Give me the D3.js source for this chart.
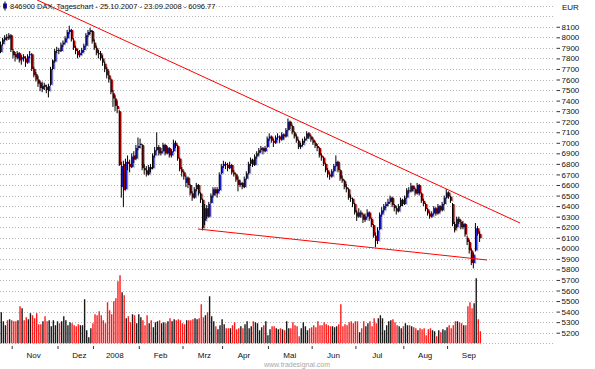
<!DOCTYPE html>
<html><head><meta charset="utf-8">
<script src="https://cdn.jsdelivr.net/npm/d3@7/dist/d3.min.js"></script>
<style>body{margin:0;background:#fff}svg{display:block}text{font-family:"Liberation Sans",Arial,sans-serif}</style>
</head><body><svg id="c" width="595" height="369"></svg>
<script>
const title = "846900  DAX, Tageschart - 25.10.2007 - 23.09.2008 - 6096.77";
const currency = "EUR";
const credit = "www.tradesignal.com";
const startDate = "2007-10-25", endDate = "2008-09-23";
const holidays = ["2007-12-24","2007-12-25","2007-12-26","2007-12-31","2008-01-01","2008-03-21","2008-03-24","2008-05-01"];
const monthLabels = ["Nov","Dez","2008","Feb","Mrz","Apr","Mai","Jun","Jul","Aug","Sep"];
const gridLevels = [5100,5200,5300,5400,5500,5600,5700,5800,5900,6000,6100,6200,6300,6400,6500,6600,6700,6800,6900,7000,7100,7200,7300,7400,7500,7600,7700,7800,7900,8000,8100,8200,8300];
const tickLabels = [5200,5300,5400,5500,5600,5700,5800,5900,6000,6100,6200,6300,6400,6500,6600,6700,6800,6900,7000,7100,7200,7300,7400,7500,7600,7700,7800,7900,8000,8100];
// [open, high, low, close]
const ohlc = [
[7860,7960,7850,7930],[7935,7995,7920,7980],[7975,8020,7960,8000],[8005,8030,7970,7990],[7990,8040,7975,8020],
[8020,8030,7860,7880],[7870,7890,7800,7830],[7840,7860,7770,7810],[7800,7870,7790,7850],[7850,7860,7760,7780],
[7790,7830,7740,7810],[7820,7840,7770,7800],[7800,7820,7720,7760],[7760,7840,7750,7820],[7830,7870,7800,7840],
[7840,7850,7680,7700],[7700,7720,7620,7640],[7650,7670,7580,7600],[7600,7630,7530,7560],[7570,7590,7490,7520],
[7510,7580,7480,7540],[7550,7570,7500,7530],[7530,7550,7470,7500],[7490,7560,7430,7540],[7550,7720,7540,7700],
[7700,7790,7690,7780],[7770,7890,7760,7870],
[7880,7910,7850,7880],[7880,7900,7840,7870],[7870,7950,7860,7930],[7930,7970,7910,7950],[7950,8010,7940,7990],
[7990,8070,7980,8050],[8050,8110,8030,8070],[8070,8080,7960,7980],[7970,7990,7880,7900],[7900,7920,7840,7870],
[7870,7890,7800,7830],[7830,7880,7810,7850],[7850,7900,7830,7880],[7880,7940,7860,7920],[7920,8040,7910,8020],
[8020,8070,8000,8050],[8050,8090,8030,8067],
[8060,8070,7940,7960],[7950,7980,7880,7900],[7900,7920,7830,7850],[7850,7880,7800,7840],[7850,7870,7780,7800],
[7800,7830,7730,7760],[7750,7770,7670,7700],[7700,7720,7610,7640],[7640,7680,7570,7600],[7600,7610,7460,7480],
[7470,7500,7340,7420],[7420,7450,7300,7350],[7350,7400,7280,7320],[7300,7310,6780,6790],[6580,6820,6480,6780],
[6800,6830,6390,6550],[6560,6850,6550,6820],[6820,6880,6740,6800],[6800,6840,6720,6770],[6770,6900,6760,6870],
[6880,6920,6810,6840],[6850,6980,6840,6950],
[6950,7050,6930,6970],[6980,7040,6950,6990],[6980,6990,6740,6760],[6760,6800,6700,6740],[6740,6780,6680,6700],
[6700,6790,6690,6770],[6770,6800,6720,6750],[6760,6900,6750,6880],[6880,6960,6860,6930],[6930,7100,6920,6960],
[6960,6980,6880,6900],[6900,6950,6880,6920],[6920,7000,6910,6980],[6980,6990,6880,6900],[6900,6970,6890,6950],
[6950,6960,6860,6880],[6880,6940,6860,6920],[6920,7030,6910,7000],[7000,7020,6950,6970],[6970,6980,6830,6850],
[6850,6860,6730,6750],
[6750,6770,6680,6720],[6720,6730,6650,6680],[6620,6690,6580,6670],[6670,6680,6570,6600],[6600,6610,6500,6520],
[6520,6540,6450,6480],[6480,6580,6470,6560],[6560,6620,6540,6600],[6600,6610,6500,6520],[6520,6530,6430,6460],
[6460,6470,6170,6190],[6260,6420,6220,6380],[6380,6410,6280,6300],[6300,6440,6290,6420],[6430,6520,6420,6500],
[6500,6580,6480,6560],[6560,6580,6500,6520],[6520,6580,6480,6560],[6550,6720,6540,6700],
[6710,6800,6700,6780],[6780,6830,6760,6800],[6800,6820,6750,6790],[6790,6810,6730,6760],[6760,6820,6750,6790],
[6790,6800,6700,6720],[6720,6740,6680,6700],[6700,6710,6630,6650],[6650,6680,6540,6600],[6600,6650,6580,6620],
[6620,6630,6560,6580],[6580,6680,6570,6660],[6660,6730,6650,6710],[6710,6820,6700,6800],[6800,6860,6780,6840],
[6840,6850,6770,6790],[6790,6890,6780,6870],[6870,6920,6850,6900],[6900,6950,6880,6930],[6930,6970,6910,6950],
[6950,6960,6890,6920],[6920,6970,6910,6950],
[6960,7060,6950,7040],[7040,7090,7020,7060],[7060,7070,7000,7020],[7020,7040,6960,7000],[7000,7070,6990,7050],
[7050,7090,7030,7060],[7060,7070,7000,7030],[7030,7100,7020,7080],[7080,7090,7030,7060],[7060,7140,7050,7120],
[7120,7230,7110,7200],[7200,7210,7130,7160],[7160,7170,7080,7100],[7100,7110,7040,7060],[7060,7080,7000,7020],
[7020,7030,6940,6960],[6960,7000,6940,6980],[6980,7040,6970,7020],[7020,7060,7000,7040],[7040,7110,7030,7090],
[7090,7100,7040,7060],
[7060,7070,7010,7030],[7030,7050,6980,7000],[7000,7020,6950,6970],[6970,6990,6920,6950],[6950,6960,6860,6880],
[6880,6900,6830,6860],[6860,6870,6780,6800],[6800,6810,6720,6740],[6740,6760,6670,6700],[6700,6720,6650,6680],
[6680,6750,6670,6730],[6730,6800,6720,6780],[6780,6880,6770,6820],[6820,6830,6720,6740],[6740,6750,6640,6660],
[6660,6690,6620,6640],[6640,6650,6560,6580],[6580,6610,6530,6560],[6560,6570,6460,6480],[6480,6510,6440,6470],
[6470,6480,6390,6420],
[6420,6430,6320,6340],[6340,6360,6260,6300],[6300,6380,6290,6340],[6340,6360,6290,6320],[6320,6330,6240,6270],
[6270,6330,6250,6300],[6300,6370,6290,6340],[6340,6350,6260,6280],[6280,6290,6200,6220],[6220,6230,6100,6120],
[6120,6150,6010,6070],[6070,6200,6040,6170],[6180,6340,6170,6320],[6320,6390,6300,6360],[6360,6420,6340,6400],
[6400,6440,6380,6420],[6420,6470,6400,6440],[6440,6500,6430,6480],[6480,6490,6390,6410],[6410,6420,6350,6380],
[6380,6400,6320,6350],[6350,6420,6340,6400],[6400,6480,6390,6460],
[6460,6470,6400,6420],[6420,6500,6410,6480],[6480,6570,6470,6550],[6550,6580,6520,6540],[6540,6620,6530,6590],
[6590,6600,6540,6560],[6560,6570,6500,6520],[6520,6620,6510,6600],[6600,6610,6500,6520],[6520,6530,6430,6450],
[6450,6470,6400,6420],[6420,6430,6350,6370],[6370,6380,6310,6330],[6330,6350,6280,6300],[6300,6350,6290,6330],
[6330,6400,6320,6380],[6380,6390,6310,6330],[6330,6420,6320,6400],[6400,6410,6340,6360],[6360,6440,6350,6420],
[6420,6500,6410,6480],
[6480,6560,6470,6530],[6530,6540,6470,6490],[6490,6500,6430,6450],[6420,6430,6210,6230],[6230,6250,6150,6170],
[6200,6300,6190,6280],[6280,6300,6230,6250],[6250,6270,6180,6200],[6200,6260,6180,6230],[6230,6240,6110,6130],
[6100,6120,6030,6060],[6060,6080,5950,5980],[5980,6000,5840,5860],[5860,5960,5810,5940],[5980,6240,5970,6190],
[6190,6210,6120,6137],[6137,6160,6060,6097]
];
const volume = [
31,22,18,23,24,23,22,22,23,37,35,23,26,24,30,28,25,30,19,19,22,27,22,23,17,23,18,
22,20,22,27,23,18,21,20,18,17,19,18,18,44,13,6,15,
20,29,28,32,28,23,20,41,33,29,42,45,62,68,51,48,25,27,21,29,28,20,
29,26,23,18,28,20,23,16,21,22,23,20,21,20,22,25,22,24,23,24,23,
20,19,23,23,23,24,25,24,25,39,26,28,31,47,27,22,17,14,18,
24,19,15,15,15,18,21,14,15,17,15,19,22,15,17,22,21,20,13,16,18,22,
8,14,17,17,15,14,15,14,13,22,15,15,21,18,17,7,15,21,17,13,15,
16,18,16,22,18,18,21,19,18,17,17,16,17,19,39,17,19,18,21,22,20,
22,22,11,15,22,17,20,22,17,25,20,25,28,25,13,18,22,23,24,21,18,17,15,
17,20,18,18,17,16,15,13,15,14,15,8,14,15,13,12,7,13,11,14,13,
16,18,15,18,22,22,21,20,18,18,37,41,35,40,65,24,12
];
const upperTrend = [[17.15, 8354], [249, 6240]];
const lowerTrend = [[94.4, 6183], [233.2, 5889]];

// trading calendar
const fmt = d3.timeFormat("%Y-%m-%d"), parse = d3.timeParse("%Y-%m-%d");
const dates = d3.timeDay.range(parse(startDate), d3.timeDay.offset(parse(endDate), 1))
  .filter(d => d.getDay() !== 0 && d.getDay() !== 6 && !holidays.includes(fmt(d)));
const monthStarts = [];
dates.forEach((d, i) => { if (i > 0 && d.getMonth() !== dates[i-1].getMonth()) monthStarts.push(i); });

const svg = d3.select("#c");
const x = d3.scaleLinear().domain([0, dates.length - 1]).range([1.28, 480.4]);
const y = d3.scaleLinear().domain([5100, 8300]).range([343.25, 5.65]);
const yVol = d3.scaleLinear().domain([0, 100]).range([343.25, 243.25]);

// grid
svg.append("g").selectAll("line").data(gridLevels).join("line")
  .attr("x1", 0).attr("x2", 554)
  .attr("y1", d => Math.round(y(d)) + 0.5).attr("y2", d => Math.round(y(d)) + 0.5)
  .attr("stroke", "#b4b4b4").attr("stroke-width", 1).attr("stroke-dasharray", "1,2");

// volume
svg.append("g").selectAll("rect").data(volume).join("rect")
  .attr("x", (d, i) => x(i) - 0.7).attr("width", 1.4)
  .attr("y", d => yVol(d)).attr("height", d => yVol(0) - yVol(d))
  .attr("fill", (d, i) => ohlc[i][3] >= ohlc[i][0] ? "#1a1a1a" : "#ff1a1a");

// candles
const cg = svg.append("g");
cg.selectAll("rect.sh").data(ohlc).join("rect").attr("class", "sh")
  .attr("x", (d, i) => x(i) + 1.1).attr("width", 1)
  .attr("y", d => y(Math.max(d[0], d[3])) + 1)
  .attr("height", d => Math.max(1, Math.abs(y(d[0]) - y(d[3]))))
  .attr("fill", "#b8b8b8");
cg.selectAll("rect.body").data(ohlc).join("rect").attr("class", "body")
  .attr("x", (d, i) => x(i) - 0.9).attr("width", 2.1)
  .attr("y", d => y(Math.max(d[0], d[3])))
  .attr("height", d => Math.max(1, Math.abs(y(d[0]) - y(d[3]))))
  .attr("fill", d => d[3] >= d[0] ? "#1c1cc8" : "#a00000");
cg.selectAll("line").data(ohlc).join("line")
  .attr("x1", (d, i) => x(i) - 0.8).attr("x2", (d, i) => x(i) - 0.8)
  .attr("y1", d => y(d[1])).attr("y2", d => y(d[2]))
  .attr("stroke", "#000").attr("stroke-width", 1);

// trendlines
const line = d3.line().x(d => x(d[0])).y(d => y(d[1]));
[upperTrend, lowerTrend].forEach(t => svg.append("path").attr("d", line(t))
  .attr("fill", "none").attr("stroke", "#ff0000").attr("stroke-width", 1));

// right axis
const ax = svg.append("g").attr("transform", "translate(556.5,0)")
  .call(d3.axisRight(y).tickValues(tickLabels).tickSize(3.5).tickPadding(1.5).tickFormat(d3.format("d")));
ax.select(".domain").remove();
ax.selectAll("line").attr("stroke", "#333");
ax.selectAll("text").attr("font-size", 8).attr("fill", "#111").attr("font-family", '"Liberation Sans",Arial,sans-serif');

// bottom axis
const bx = svg.append("g").attr("transform", "translate(0,346)")
  .call(d3.axisBottom(x).tickValues(monthStarts).tickSize(3).tickFormat(""));
bx.select(".domain").remove();
bx.selectAll("line").attr("stroke", "#333");
svg.append("g").selectAll("text").data(monthStarts).join("text")
  .attr("x", d => x(d + 10.5)).attr("y", 358).attr("text-anchor", "middle")
  .attr("font-size", 8).attr("fill", "#111").text((d, i) => monthLabels[i]);

// header
svg.append("rect").attr("x", 3).attr("y", 3.5).attr("width", 4).attr("height", 5).attr("fill", "#1c1cc8");
svg.append("line").attr("x1", 5).attr("x2", 5).attr("y1", 1.5).attr("y2", 10.5).attr("stroke", "#000");
svg.append("text").attr("x", 10).attr("y", 9).attr("font-size", 7.5).attr("fill", "#111").text(title);
svg.append("text").attr("x", 562).attr("y", 10).attr("font-size", 8).attr("fill", "#111").text(currency);
svg.append("text").attr("x", 297).attr("y", 367).attr("text-anchor", "middle").attr("font-size", 7).attr("fill", "#a8a8a8").text(credit);
</script></body></html>
